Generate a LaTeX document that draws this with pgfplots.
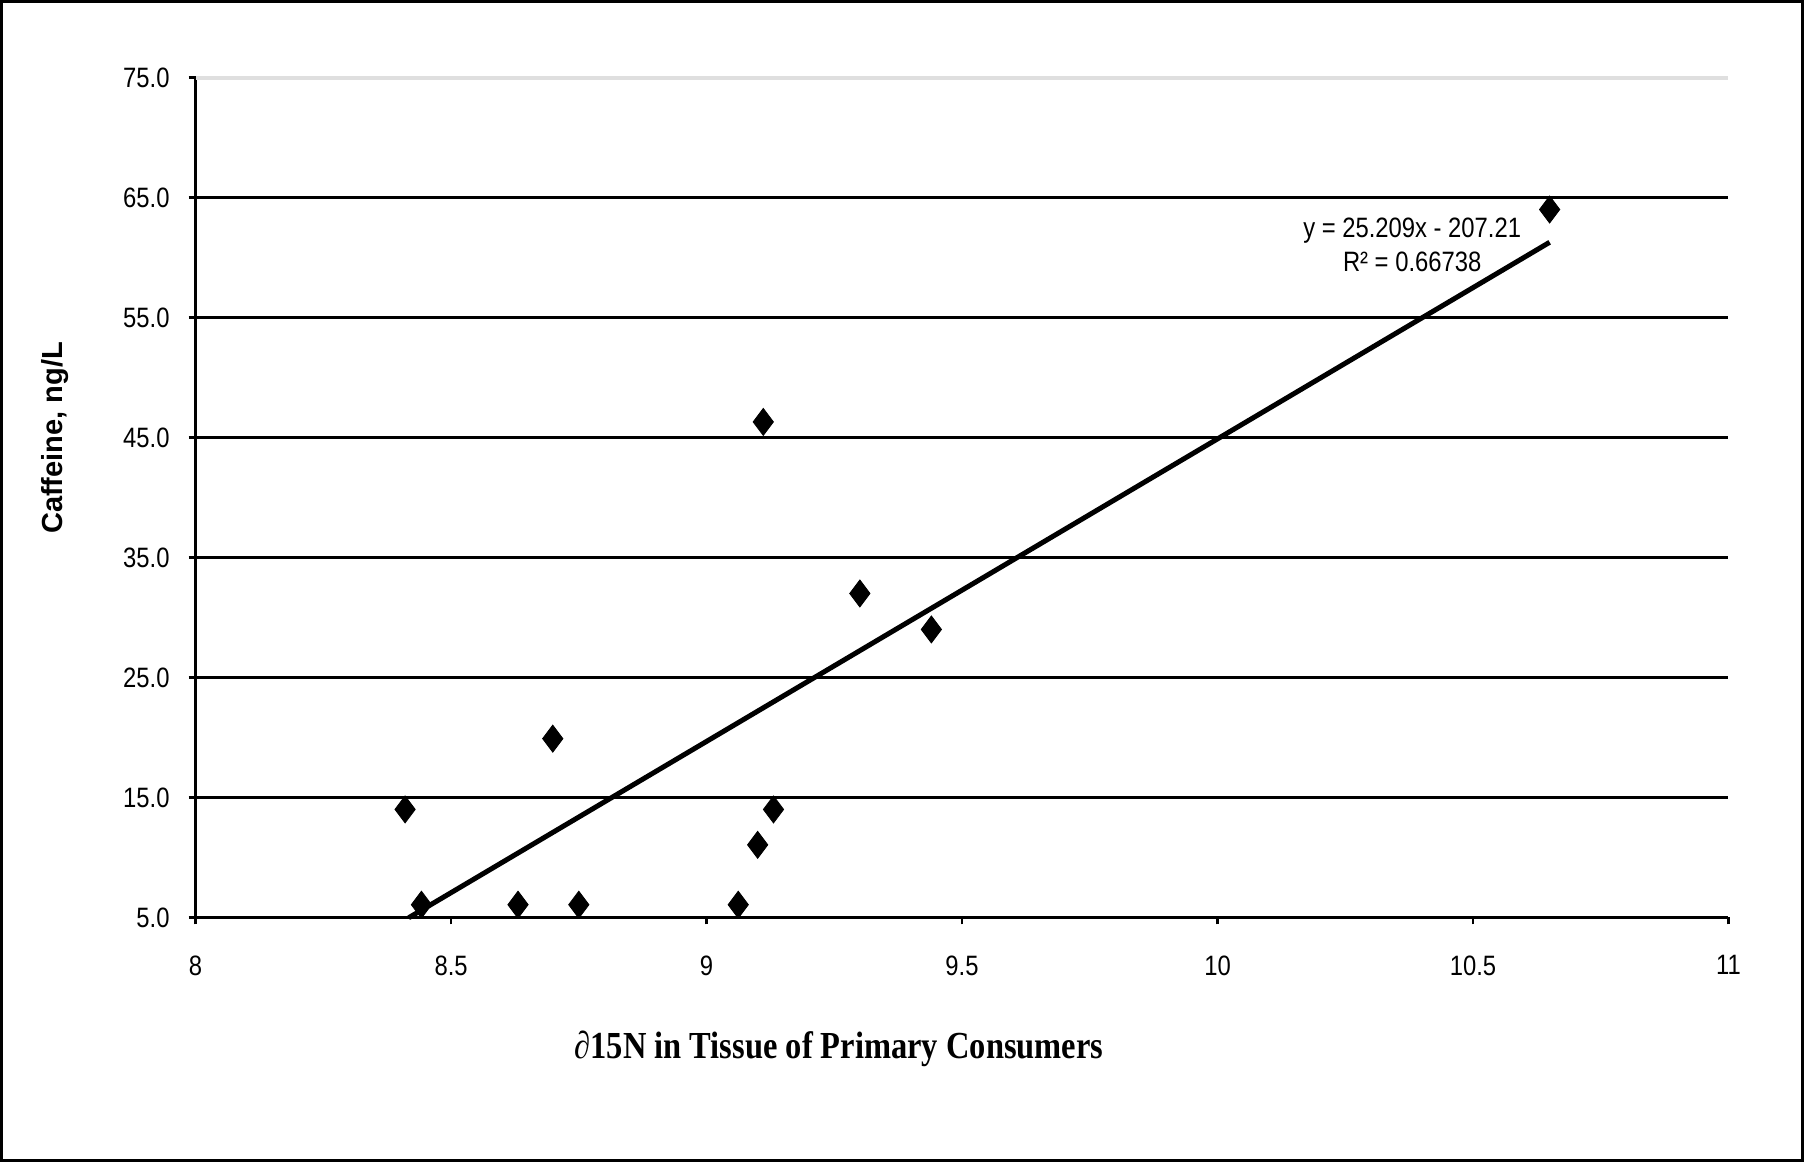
\documentclass[border=0pt]{standalone}
\usepackage{fontspec}
\usepackage{pgfplots}
\pgfplotsset{compat=1.18}
\setmainfont{Liberation Sans}[FakeStretch=0.85]
\newfontfamily\ylabfont{Liberation Sans}
\newfontfamily\xlabfont{Liberation Serif}[FakeStretch=0.85]
\begin{document}
\begin{tikzpicture}
\begin{axis}[
  scale only axis,
  width=766pt, height=419.7pt,
  xmin=8, xmax=11, ymin=5, ymax=75,
  clip=false,
  axis x line*=bottom, axis y line*=left,
  axis line style={line width=1.5pt},
  tick align=outside,
  major tick length=3.5pt,
  tick style={line width=1.2pt, black},
  xtick={8,8.5,9,9.5,10,10.5,11},
  ytick={5,15,25,35,45,55,65},
  extra y ticks={75},
  extra y tick style={grid style={gray!25, line width=2pt}},
  ymajorgrids,
  grid style={black, line width=1.2pt},
  /pgf/number format/assume math mode=true,
  yticklabel={\pgfmathprintnumber[fixed,fixed zerofill,precision=1]{\tick}},
  ticklabel style={font=\fontsize{14}{16}\selectfont},
  xticklabel style={yshift=-12pt},
  yticklabel style={xshift=-6pt},
  xlabel={\xlabfont\bfseries ∂15N in Tissue of Primary Consumers},
  xlabel style={font=\fontsize{19.1}{21}\selectfont, at={(axis description cs:0.4197,-0.157)}, anchor=center},
  ylabel={\ylabfont\bfseries Caffeine, ng/L},
  ylabel style={font=\fontsize{14.5}{16}\selectfont, at={(axis description cs:-0.092,0.571)}, anchor=center, rotate=0},
]
\addplot[only marks, mark=diamond*, mark size=6.75pt, black] coordinates {
  (8.41,14.0) (8.442,6.06) (8.631,6.06) (8.699,19.9) (8.750,6.06)
  (9.062,6.06) (9.100,11.05) (9.111,46.3) (9.131,14.0) (9.300,32.0)
  (9.440,29.0) (10.650,64.0)
};
\addplot[black, line width=2.5pt] coordinates {(8.417,4.97) (10.65,61.27)};
\node[align=center, font=\fontsize{14}{17}\selectfont] at (axis cs:10.381,61.04) {y = 25.209x - 207.21\\R² = 0.66738};
\end{axis}
\draw[line width=1.5pt] (-97pt,-121.5pt) rectangle (803pt,457.7pt);
\end{tikzpicture}
\end{document}
